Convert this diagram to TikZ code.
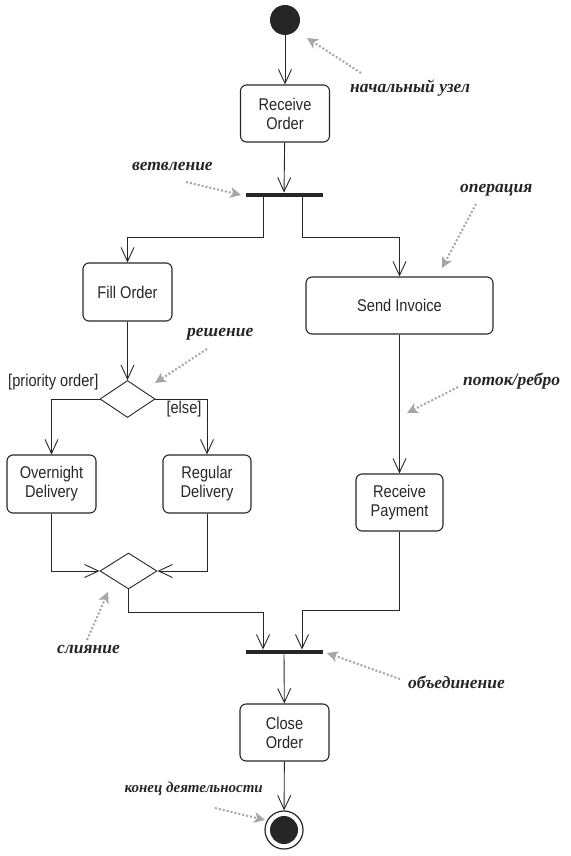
\documentclass[tikz,border=0pt]{standalone}
\usepackage{fontspec}
\setmainfont{Liberation Sans}[FakeStretch=0.86]
\newfontfamily\notefont{Liberation Serif}[BoldItalicFont=* Bold Italic]
\usetikzlibrary{arrows.meta,shapes.geometric,positioning}
\definecolor{ink}{HTML}{262626}
\definecolor{notegray}{HTML}{A6A6A6}
\tikzset{
  act/.style={draw=ink, line width=1.1pt, rounded corners=6pt, inner sep=0pt, align=center,
    font=\fontsize{17}{19}\selectfont, text=ink},
  bar/.style={fill=ink, inner sep=0pt, minimum height=4.5pt},
  flow/.style={draw=ink, line width=0.9pt, -{Straight Barb[length=14pt,width=13pt,line width=0.9pt]}},
  decis/.style={diamond, draw=ink, line width=0.9pt, inner sep=0pt, minimum width=55pt, minimum height=37pt},
  note/.style={font=\notefont\bfseries\itshape\fontsize{17.5}{20}\selectfont, text=ink, inner sep=0pt},
  pointer/.style={draw=notegray, line width=2pt, dash pattern=on 2pt off 2pt,
    -{Stealth[length=11pt,width=11pt,inset=3pt,fill=notegray,line width=0pt]}},
  guard/.style={font=\fontsize{17}{19}\selectfont, text=ink, inner sep=0pt}
}
\begin{document}
\begin{tikzpicture}[x=1pt,y=-1pt]
\useasboundingbox (0,0) rectangle (570,856);
% nodes
\node[circle, fill=ink, minimum size=30pt, inner sep=0pt] (start) at (285,20) {};
\node[act, minimum width=89pt, minimum height=57pt] (recv) at (285,113.5) {Receive\\Order};
\node[bar, minimum width=77pt] (fork) at (284,195) {};
\node[act, minimum width=89pt, minimum height=58pt] (fill) at (127.5,292) {Fill Order};
\node[act, minimum width=187pt, minimum height=57pt] (inv) at (399.5,305.5) {Send Invoice};
\node[decis] (dec) at (127.5,399) {};
\node[act, minimum width=89pt, minimum height=58pt] (over) at (51.5,484) {Overnight\\Delivery};
\node[act, minimum width=88pt, minimum height=58pt] (reg) at (207,484) {Regular\\Delivery};
\node[act, minimum width=87pt, minimum height=57pt] (pay) at (399.5,502.5) {Receive\\Payment};
\node[decis, minimum width=57pt, minimum height=36pt] (merge) at (128.5,571) {};
\node[bar, minimum width=77pt] (join) at (284,652) {};
\node[act, minimum width=89pt, minimum height=57pt] (close) at (284.5,732.5) {Close\\Order};
\node[circle, draw=ink, line width=1.2pt, minimum size=38pt, inner sep=0pt] (end) at (284,830) {};
\node[circle, fill=ink, minimum size=28pt, inner sep=0pt] (endin) at (end) {};
% guards
\node[guard, anchor=west] (g1) at (8,382) {[priority order]};
\node[guard] (g2) at (184,409) {[else]};
% flows
\draw[flow] (start) -- (recv);
\draw[flow] (recv) -- (fork);
\draw[flow] ([xshift=-21pt]fork.south) -- ++(0,40) -| (fill.north);
\draw[flow] ([xshift=18pt]fork.south) -- ++(0,40) -| (inv.north);
\draw[flow] (fill) -- (dec);
\draw[flow] (dec.west) -| (over.north);
\draw[flow] (dec.east) -| (reg.north);
\draw[flow] (inv) -- (pay);
\draw[flow] (over.south) |- (merge.west);
\draw[flow] (reg.south) |- (merge.east);
\draw[flow] (merge.south) -- ++(0,23) -| ([xshift=-21pt]join.north);
\draw[flow] (pay.south) -- ++(0,79) -| ([xshift=18pt]join.north);
\draw[flow] (join) -- (close);
\draw[flow] (close) -- (end);
% notes
\node[note, anchor=west] (n1) at (350,88) {начальный узел};
\coordinate (n1a) at (361,73); \coordinate (n1b) at (307,38);
\draw[pointer] (n1a) -- (n1b);
\node[note, anchor=west] (n2) at (132,166) {ветвление};
\coordinate (n2a) at (186,182); \coordinate (n2b) at (241,195);
\draw[pointer] (n2a) -- (n2b);
\node[note, anchor=west] (n3) at (460,190) {операция};
\coordinate (n3a) at (476,204); \coordinate (n3b) at (442,268);
\draw[pointer] (n3a) -- (n3b);
\node[note, anchor=west] (n4) at (187,334) {решение};
\coordinate (n4a) at (207,349); \coordinate (n4b) at (155,383);
\draw[pointer] (n4a) -- (n4b);
\node[note, anchor=west] (n5) at (463,381) {поток/ребро};
\coordinate (n5a) at (458,387); \coordinate (n5b) at (407,413);
\draw[pointer] (n5a) -- (n5b);
\node[note, anchor=west] (n6) at (57,649) {слияние};
\coordinate (n6a) at (87,640); \coordinate (n6b) at (108,592);
\draw[pointer] (n6a) -- (n6b);
\node[note, anchor=west] (n7) at (408,682) {объединение};
\coordinate (n7a) at (400,679); \coordinate (n7b) at (327,653);
\draw[pointer] (n7a) -- (n7b);
\node[note, anchor=east, font=\notefont\bfseries\itshape\fontsize{15}{18}\selectfont] (n8) at (263,789) {конец деятельности};
\coordinate (n8a) at (215,808); \coordinate (n8b) at (265,820);
\draw[pointer] (n8a) -- (n8b);
\end{tikzpicture}
\end{document}
